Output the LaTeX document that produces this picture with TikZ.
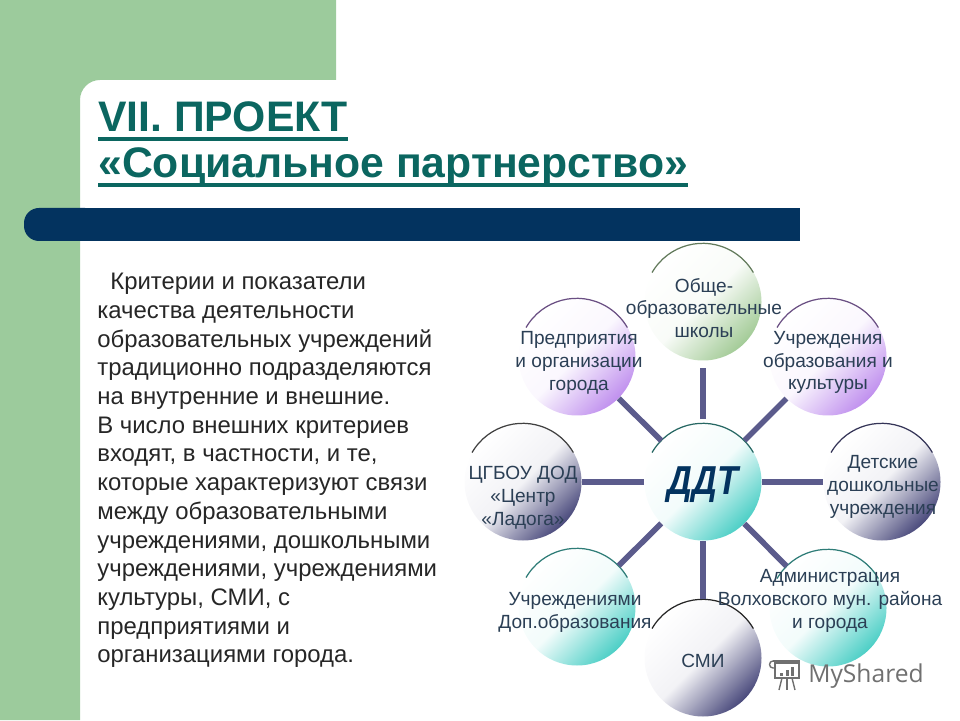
\documentclass[tikz,border=0pt]{standalone}
\usepackage{fontspec}
\setmainfont{Liberation Sans}
\newfontfamily\markfont{Open Sans}
\usetikzlibrary{calc}

\definecolor{leafgreen}{HTML}{9CCB9C}
\definecolor{barnavy}{HTML}{03335F}
\definecolor{titleteal}{HTML}{0B6660}
\definecolor{spokeblue}{HTML}{5B5B8C}
\definecolor{labelblue}{HTML}{2B3F55}
\definecolor{ballgreen}{HTML}{A3CB97}
\definecolor{ballpurple}{HTML}{C090EE}
\definecolor{ballslate}{HTML}{4A4A7C}
\definecolor{ballteal}{HTML}{4CCFC6}
\definecolor{markgray}{HTML}{707070}

\newcommand{\titleul}[1]{\setbox0\hbox{#1}\rlap{\rule[-5.2pt]{\wd0}{2.6pt}}\box0}

\tikzset{
  ball/.style={circle,minimum size=2.34cm,inner sep=0pt,top color=white,bottom color=#1,middle color=#1!7!white,shading angle=45},
  rim/.style={line width=0.7pt,color=#1},
  spoke/.style={line width=3.2pt,spokeblue},
  balltext/.style={align=center,text=labelblue,font=\fontsize{10.85}{13}\selectfont}
}

\begin{document}
\begin{tikzpicture}
\useasboundingbox (0,0) rectangle (19.2,14.4);
% backdrop
\fill [leafgreen] (0,0) -- (1.6,0) -- (1.6,12.4) arc (180:90:0.4) -- (6.72,12.8) -- (6.72,14.4) -- (0,14.4) -- cycle;
\fill [barnavy, rounded corners=0.3cm] (0.48,9.58) rectangle (2,10.24);
\fill [barnavy] (1.2,9.58) rectangle (16,10.24);

% title and text
\draw (1.96,11.76) node [anchor=base west,inner sep=0pt,text=titleteal,font=\fontsize{24.3}{24}\selectfont\bfseries] (head1) {\titleul{VII. ПРОЕКТ}};
\draw (1.96,10.84) node [anchor=base west,inner sep=0pt,text=titleteal,font=\fontsize{24.3}{24}\selectfont\bfseries] (head2) {\titleul{«Социальное партнерство»}};
\draw (1.94,8.94) node [anchor=north west,inner sep=0pt,align=left,text=black!85,font=\fontsize{13.6}{16.33}\selectfont] (body) {\hspace*{0.26cm}Критерии и показатели\\
качества деятельности\\
образовательных учреждений\\
традиционно подразделяются\\
на внутренние и внешние.\\
В число внешних критериев\\
входят, в частности, и те,\\
которые характеризуют связи\\
между образовательными\\
учреждениями, дошкольными\\
учреждениями, учреждениями\\
культуры, СМИ, с\\
предприятиями и\\
организациями города.};

% circles
\draw (14.06,4.76) node [ball=ballteal] (ddt) {};
\draw (14.06,8.36) node [ball=ballgreen] (schools) {};
\draw (16.56,7.26) node [ball=ballpurple] (culture) {};
\draw (17.64,4.76) node [ball=ballslate] (preschool) {};
\draw (16.56,2.24) node [ball=ballteal] (admin) {};
\draw (11.54,2.26) node [ball=ballteal] (extra) {};
\draw (14.06,1.24) node [ball=ballslate] (media) {};
\draw (10.46,4.76) node [ball=ballslate] (ladoga) {};
\draw (11.54,7.26) node [ball=ballpurple] (firms) {};

% rims
\draw [rim=ballgreen!60!black] (schools.150) arc (150:30:1.17);
\draw [rim=ballpurple!55!black] (culture.150) arc (150:30:1.17);
\draw [rim=ballslate!70!black] (preschool.150) arc (150:30:1.17);
\draw [rim=ballteal!60!black] (admin.150) arc (150:30:1.17);
\draw [rim=ballteal!60!black] (extra.150) arc (150:30:1.17);
\draw [rim=black!85] (media.150) arc (150:30:1.17);
\draw [rim=black!75] (ladoga.150) arc (150:30:1.17);
\draw [rim=ballpurple!55!black] (firms.150) arc (150:30:1.17);
\draw [rim=ballteal!50!black] (ddt.150) arc (150:30:1.17);

% spokes
\draw [spoke,shorten <=0.08cm,shorten >=0.14cm] (ddt) -- (schools);
\draw [spoke] (ddt) -- (culture);
\draw [spoke] (ddt) -- (preschool);
\draw [spoke] (ddt) -- (admin);
\draw [spoke] (ddt) -- (media);
\draw [spoke] (ddt) -- (extra);
\draw [spoke] (ddt) -- (ladoga);
\draw [spoke] (ddt) -- (firms);

% labels
\draw (14.06,4.7) node [text=barnavy,font=\fontsize{23}{23}\selectfont\bfseries\itshape] (ddttext) {\scalebox{0.85}[1]{ДДТ}};
\draw (14.08,8.24) node [balltext] (schoolstext) {Обще-\\образовательные\\школы};
\draw (16.56,7.15) node [balltext] (culturetext) {Учреждения\\образования и\\культуры};
\draw (17.66,4.66) node [balltext] (preschooltext) {Детские\\дошкольные\\учреждения};
\draw (16.6,2.38) node [balltext] (admintext) {Администрация\\Волховского мун. района\\и города};
\draw (11.5,2.15) node [balltext] (extratext) {Учреждениями\\Доп.образования};
\draw (14.06,1.18) node [balltext] (mediatext) {СМИ};
\draw (10.46,4.45) node [balltext] (ladogatext) {ЦГБОУ ДОД\\«Центр\\«Ладога»};
\draw (11.58,7.14) node [balltext] (firmstext) {Предприятия\\и организации\\города};

% watermark
\draw (16.16,0.88) node [anchor=west,inner sep=0pt,text=markgray,font=\markfont\fontsize{14}{14}\selectfont] (mark) {MyShared};
\draw [markgray,line width=0.8pt] (15.5,1.14) rectangle (15.98,0.84);
\draw [markgray,line width=1pt] (15.46,1.18) -- (16.0,1.18);
\draw [markgray,line width=0.8pt] (15.46,1.18) arc (90:270:0.07) -- (15.5,1.04);
\fill [markgray] (15.6,0.89) rectangle (15.66,0.95);
\fill [markgray] (15.71,0.89) rectangle (15.77,1.0);
\fill [markgray] (15.82,0.89) rectangle (15.88,1.07);
\draw [markgray,line width=0.8pt] (15.64,0.84) -- (15.58,0.6);
\draw [markgray,line width=0.8pt] (15.74,0.84) -- (15.74,0.6);
\draw [markgray,line width=0.8pt] (15.84,0.84) -- (15.9,0.6);
\end{tikzpicture}
\end{document}
